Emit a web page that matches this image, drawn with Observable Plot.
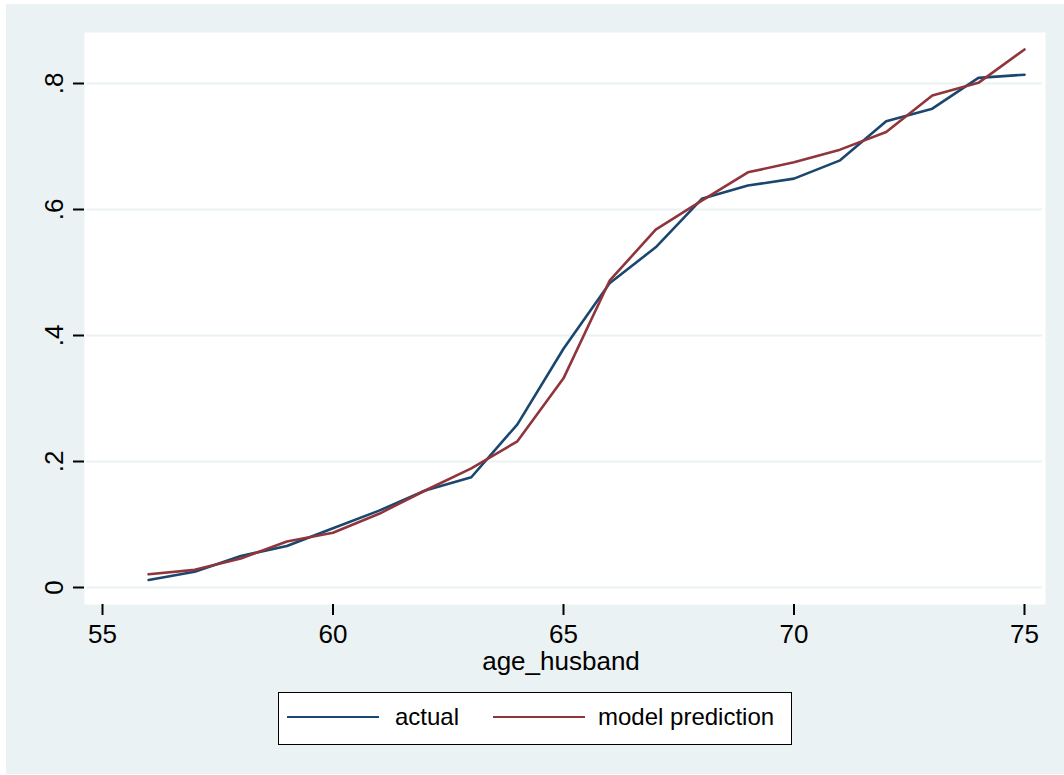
<!DOCTYPE html>
<html>
<head>
<meta charset="utf-8">
<script src="https://cdn.jsdelivr.net/npm/d3@7"></script>
<script src="https://cdn.jsdelivr.net/npm/@observablehq/plot@0.6"></script>
<style>
  html, body { margin: 0; padding: 0; background: #ffffff; }
  #page { position: relative; width: 1064px; height: 775px; overflow: hidden; font-family: "Liberation Sans", Arial, sans-serif; }
  #bg { position: absolute; left: 6px; top: 4px; width: 1058px; height: 770px; background: #EAF2F3; }
  #chart { position: absolute; left: 0; top: 0; }
  #legend { position: absolute; left: 278px; top: 692px; width: 512px; height: 51px; background: #ffffff; border: 1.5px solid #000; }
  .sw { position: absolute; height: 2px; top: 23px; }
  .lt { position: absolute; top: 10px; font-size: 24px; line-height: 28px; color: #000; }
</style>
</head>
<body>
<div id="page">
  <div id="bg"></div>
  <div id="chart"></div>
  <div id="legend"></div>
</div>
<script>
// ---- data ----
const ages = [56, 57, 58, 59, 60, 61, 62, 63, 64, 65, 66, 67, 68, 69, 70, 71, 72, 73, 74, 75];
const actual = [0.012, 0.025, 0.050, 0.066, 0.094, 0.122, 0.154, 0.175, 0.259, 0.379, 0.483, 0.540, 0.617, 0.638, 0.649, 0.678, 0.740, 0.760, 0.809, 0.814];
const prediction = [0.021, 0.028, 0.046, 0.073, 0.087, 0.117, 0.154, 0.189, 0.232, 0.332, 0.487, 0.568, 0.614, 0.659, 0.675, 0.695, 0.723, 0.781, 0.801, 0.854];
const xTicks = [55, 60, 65, 70, 75];
const yTicks = [0, 0.2, 0.4, 0.6, 0.8];
const yTickLabels = ["0", ".2", ".4", ".6", ".8"];
const seriesNames = ["actual", "model prediction"];
const seriesColors = ["#1a476f", "#90353b"];
const xLabel = "age_husband";

const rows = [];
ages.forEach((a, i) => {
  rows.push({age: a, value: actual[i], series: seriesNames[0]});
  rows.push({age: a, value: prediction[i], series: seriesNames[1]});
});

const chart = Plot.plot({
  width: 1064,
  height: 680,
  marginLeft: 84,
  marginRight: 19,
  marginTop: 32,
  marginBottom: 76,
  style: {fontFamily: "\"Liberation Sans\", Arial, sans-serif", background: "transparent", color: "#000"},
  x: {domain: [54.6095, 75.4555]},
  y: {domain: [-0.02698, 0.88095]},
  color: {domain: seriesNames, range: seriesColors},
  marks: [
    Plot.frame({fill: "white", stroke: "none"}),
    Plot.ruleY(yTicks, {stroke: "#EAF2F3", strokeWidth: 2.2, insetLeft: 2, insetRight: 3}),
    Plot.lineY(rows, {x: "age", y: "value", stroke: "series", z: "series", strokeWidth: 2.6}),
    Plot.axisX({ticks: xTicks, tickSize: 11, tickPadding: 9, fontSize: 26, strokeWidth: 2, line: true, label: null, tickFormat: d => String(d)}),
    Plot.axisY({ticks: yTicks, tickSize: 11, tickPadding: 11, tickRotate: -90, fontSize: 26, strokeWidth: 2, line: true, label: null,
      tickFormat: d => yTickLabels[yTicks.findIndex(t => Math.abs(t - d) < 1e-9)]}),
    Plot.text([xLabel], {frameAnchor: "bottom", dy: 65, dx: -4, fontSize: 26, fill: "#000"})
  ]
});
document.getElementById("chart").appendChild(chart);

// legend
const legend = document.getElementById("legend");
const swLeft = [8, 214];
const txtLeft = [116, 319];
seriesNames.forEach((name, i) => {
  const sw = document.createElement("div");
  sw.className = "sw";
  sw.style.left = swLeft[i] + "px";
  sw.style.width = "92px";
  sw.style.background = seriesColors[i];
  legend.appendChild(sw);
  const t = document.createElement("div");
  t.className = "lt";
  t.style.left = txtLeft[i] + "px";
  t.textContent = name;
  legend.appendChild(t);
});
</script>
</body>
</html>
